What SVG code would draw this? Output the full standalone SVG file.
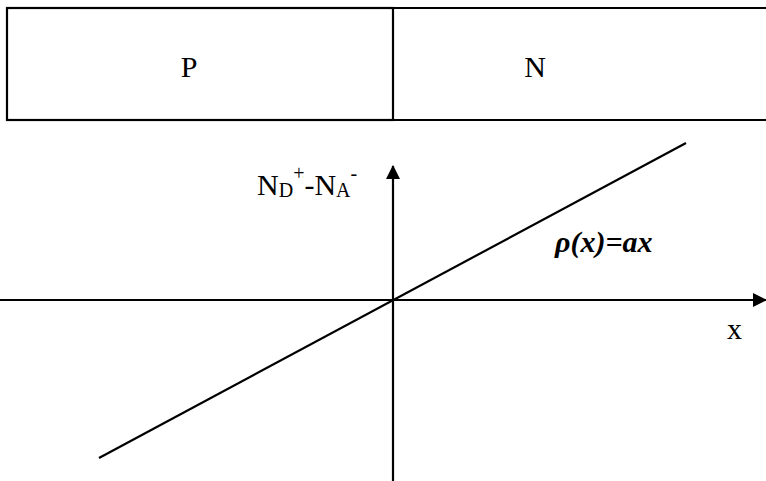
<svg xmlns="http://www.w3.org/2000/svg" width="766" height="481" viewBox="0 0 766 481">
  <style>
    .ln { stroke: #000; stroke-width: 2.2; fill: none; }
    .t { font-family: "Liberation Serif", "Times New Roman", serif; fill: #000; }
    .bi { font-family: "Liberation Serif", "DejaVu Serif", serif; font-weight: bold; font-style: italic; fill: #000; }
  </style>
  <defs>
    <marker id="ah" markerWidth="14" markerHeight="14" refX="13" refY="7" orient="auto" markerUnits="userSpaceOnUse">
      <path d="M0,0 L14,7 L0,14 Z" fill="#000"/>
    </marker>
  </defs>
  <rect width="766" height="481" fill="#fff"/>
  <g id="region-p">
    <rect x="7" y="8" width="386" height="112" class="ln"/>
    <text class="t" x="189" y="77" font-size="30" text-anchor="middle">P</text>
  </g>
  <g id="region-n">
    <path d="M393,8 H767 M393,120 H767" class="ln"/>
    <text class="t" x="535" y="77" font-size="30" text-anchor="middle">N</text>
  </g>
  <g id="connectors">
    <line x1="0" y1="300" x2="766" y2="300" class="ln" marker-end="url(#ah)"/>
    <line x1="393" y1="481" x2="393" y2="166" class="ln" marker-end="url(#ah)"/>
    <line x1="99" y1="458" x2="686" y2="143" class="ln"/>
  </g>
  <g id="label-y">
    <text class="t" x="257" y="195" font-size="30">N<tspan font-size="20" dy="2">D</tspan><tspan font-size="20" dy="-17">+</tspan><tspan dy="15">-N</tspan><tspan font-size="20" dy="2">A</tspan><tspan font-size="20" dy="-17">-</tspan></text>
  </g>
  <g id="label-rho">
    <text class="bi" x="555" y="252" font-size="30">ρ(x)=ax</text>
  </g>
  <g id="label-x">
    <text class="t" x="727" y="339" font-size="30">x</text>
  </g>
</svg>
